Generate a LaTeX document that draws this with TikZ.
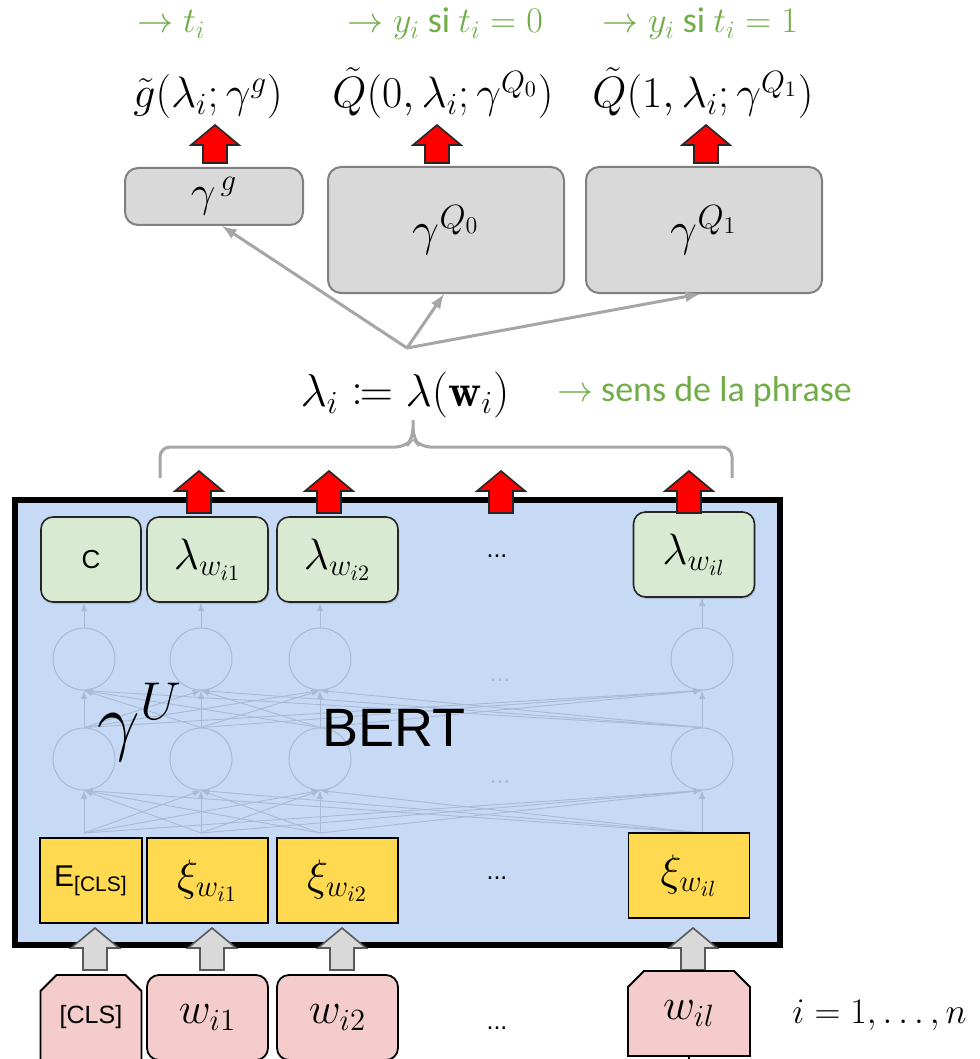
\RequirePackage{fix-cm}
\documentclass[tikz,border=0pt]{standalone}
\usepackage{amsmath, amssymb, mathtools}
\usepackage{fontspec}
\newfontfamily\calibri{Carlito}
\newfontfamily\arial{Liberation Sans}
\usepackage{xcolor}
\usepackage{tikz}
\usetikzlibrary{calc, positioning, shapes.misc, shadows}

\definecolor{lblgreen}{RGB}{112,173,71}
\definecolor{bertblue}{RGB}{198,217,245}
\definecolor{lamgreen}{RGB}{217,234,211}
\definecolor{xiyellow}{RGB}{255,217,79}
\definecolor{wpink}{RGB}{244,204,204}
\definecolor{gfill}{RGB}{217,217,217}
\definecolor{gline}{RGB}{166,166,166}
\definecolor{netline}{RGB}{170,186,214}

\tikzset{
  blockup/.pic={\path[pic actions] (-12,0) -- (-12,-#1) -- (-24,-#1) -- (0,-#1-20)
      -- (24,-#1) -- (12,-#1) -- (12,0) -- cycle;}
}

\begin{document}
\begin{tikzpicture}[x=0.5pt, y=-0.5pt, >=latex,
    gbox/.style={draw=black!50, fill=gfill, line width=1pt, rounded corners=6.5pt},
    lbox/.style={draw=black!85, fill=lamgreen, line width=0.8pt, rounded corners=6pt,
      minimum width=60.5pt, minimum height=42.5pt,
      drop shadow={shadow xshift=0.6pt, shadow yshift=-1pt, opacity=0.3}},
    xbox/.style={draw=black, fill=xiyellow, line width=0.9pt, minimum width=60.5pt, minimum height=42.5pt},
    wbox/.style={draw=black, fill=wpink, line width=0.9pt, rounded corners=6pt, minimum width=60.5pt, minimum height=42.5pt},
    cbox/.style={draw=black, fill=wpink, line width=0.9pt, chamfered rectangle,
      chamfered rectangle corners={north west, north east}, chamfered rectangle sep=4pt,
      minimum width=50.5pt, minimum height=42.5pt},
    neuron/.style={circle, draw=netline, line width=0.5pt, minimum size=31pt},
    netarrow/.style={->, draw=netline, line width=0.45pt},
    garrow/.style={->, draw=gline, line width=1.5pt},
    green/.style={text=lblgreen, font=\calibri\fontsize{18}{20}\selectfont},
    bigmath/.style={font=\fontsize{22}{26}\selectfont},
    sans/.style={font=\arial\fontsize{12.5}{14}\selectfont}]
    \useasboundingbox (0,0) rectangle (979,1059);
    \clip (0,0) rectangle (979,1059);

    % Sorties
    \node[green, anchor=base west] (tt) at (130,33) {$\rightarrow t_i$};
    \node[green, anchor=base west] (ty0) at (340,33) {$\rightarrow y_i$ si $t_i = 0$};
    \node[green, anchor=base west] (ty1) at (595,33) {$\rightarrow y_i$ si $t_i = 1$};
    \node[bigmath, anchor=base] (fg) at (208,108) {$\tilde{g}(\lambda_i;\gamma^{g})$};
    \node[bigmath, anchor=base] (fq0) at (443,108) {$\tilde{Q}(0,\lambda_i;\gamma^{Q_0})$};
    \node[bigmath, anchor=base] (fq1) at (703,108) {$\tilde{Q}(1,\lambda_i;\gamma^{Q_1})$};

    % Têtes
    \node[gbox, minimum width=89pt, minimum height=28.5pt, font=\fontsize{22}{26}\selectfont] (gg) at (214,196.5) {$\gamma^{\,g}$};
    \node[gbox, minimum width=118pt, minimum height=63pt, font=\fontsize{24}{28}\selectfont] (gq0) at (446,230) {$\gamma^{Q_0}$};
    \node[gbox, minimum width=118pt, minimum height=63pt, font=\fontsize{24}{28}\selectfont] (gq1) at (704,230) {$\gamma^{Q_1}$};
    \pic[fill=red, draw=black!85, line width=0.8pt] at (215,163) {blockup=18};
    \pic[fill=red, draw=black!85, line width=0.8pt] at (437,163) {blockup=18};
    \pic[fill=red, draw=black!85, line width=0.8pt] at (706,163) {blockup=18};

    \coordinate (hub) at (407,348);
    \draw[garrow] (hub) -- ([xshift=4pt]gg.south);
    \draw[garrow] (hub) -- ([xshift=-1pt]gq0.south);
    \draw[garrow] (hub) -- ([xshift=-2pt]gq1.south);

    % Représentation de la phrase
    \node[font=\fontsize{23}{27}\selectfont] (lam) at (405,395) {$\lambda_i \coloneqq \lambda(\mathbf{w}_i)$};
    \node[green, anchor=west] (sens) at (550,392) {$\rightarrow$ sens de la phrase};
    \draw[draw=gline, line width=1.5pt, rounded corners=5pt]
        (160,478) -- (160,447) -- (406,447) -- (413,438) -- (413,420);
    \draw[draw=gline, line width=1.5pt, rounded corners=5pt]
        (732,478) -- (732,447) -- (420,447) -- (413,438) -- (413,430);

    % BERT
    \node[draw=black, line width=3pt, fill=bertblue, minimum width=382.5pt, minimum height=222.5pt] (bert) at (397.5,722.5) {};
    \foreach \c/\xx in {1/84, 2/201, 3/320, 4/702} {
      \node[neuron] (h\c) at (\xx,659) {};
      \node[neuron] (e\c) at (\xx,759) {};
      \coordinate (b\c) at (\xx,833);
    }
    \foreach \i in {1,...,4} \foreach \j in {1,...,4} {
      \draw[netarrow] (b\i) -- (e\j.south);
      \draw[netarrow] (e\i.north) -- (h\j.south);
    }
    \node[sans, text=netline] (d1) at (500,680) {...};
    \node[sans, text=netline] (d2) at (500,782) {...};
    \node[font=\fontsize{38}{42}\selectfont] (gu) at (140,722) {$\gamma^{U}$};
    \node[font=\arial\fontsize{27}{30}\selectfont] (bt) at (394,728) {BERT};

    \node[lbox, minimum width=50pt] (lc) at (91,559.5) {\arial\fontsize{13}{15}\selectfont C};
    \node[lbox, bigmath] (l1) at (207.5,559.5) {$\lambda_{w_{i1}}$};
    \node[lbox, bigmath] (l2) at (337.5,559.5) {$\lambda_{w_{i2}}$};
    \node[sans] (ld) at (497,556) {...};
    \node[lbox, bigmath] (ll) at (694,554.5) {$\lambda_{w_{il}}$};
    \foreach \c/\t in {1/lc, 2/l1, 3/l2, 4/ll}
      \draw[netarrow] (h\c.north) -- (h\c.north |- \t.south);

    \node[xbox, minimum width=51pt] (xc) at (91,880.5) {\arial\fontsize{15}{17}\selectfont E\textsubscript{\fontsize{10.5}{12}\selectfont[CLS]}};
    \node[xbox, bigmath] (x1) at (207.5,880.5) {$\xi_{w_{i1}}$};
    \node[xbox, bigmath] (x2) at (337.5,880.5) {$\xi_{w_{i2}}$};
    \node[sans] (xd) at (497,878) {...};
    \node[xbox, bigmath] (xl) at (689,875.5) {$\xi_{w_{il}}$};

    \pic[fill=red, draw=black!85, line width=0.8pt] at (199,513) {blockup=22};
    \pic[fill=red, draw=black!85, line width=0.8pt] at (329,513) {blockup=22};
    \pic[fill=red, draw=black!85, line width=0.8pt] at (501,513) {blockup=22};
    \pic[fill=red, draw=black!85, line width=0.8pt] at (689,513) {blockup=22};

    % Entrées
    \pic[fill=gfill, draw=black!65, line width=0.8pt] at (95,970) {blockup=22};
    \pic[fill=gfill, draw=black!65, line width=0.8pt] at (212,970) {blockup=22};
    \pic[fill=gfill, draw=black!65, line width=0.8pt] at (342,970) {blockup=22};
    \pic[fill=gfill, draw=black!65, line width=0.8pt] at (693,970) {blockup=22};

    \node[cbox] (wc) at (91,1017.5) {\arial\fontsize{12.5}{14}\selectfont [CLS]};
    \node[wbox, bigmath] (w1) at (207.5,1017.5) {$w_{i1}$};
    \node[wbox, bigmath] (w2) at (337.5,1017.5) {$w_{i2}$};
    \node[sans] (wd) at (497,1028) {...};
    \node[cbox, minimum width=61pt, bigmath] (wl) at (689,1013.5) {$w_{il}$};
    \draw[line width=0.9pt] (wl.south) -- ++(0,10);
    \node[font=\fontsize{18}{22}\selectfont, anchor=east] (idx) at (974,1015) {$i = 1, \ldots, n$};
\end{tikzpicture}
\end{document}
